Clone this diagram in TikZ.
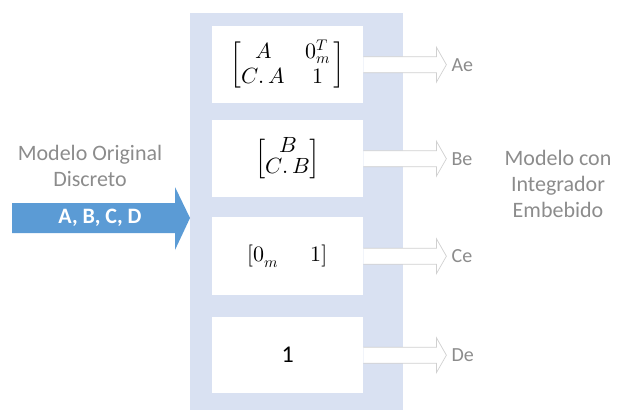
\documentclass[tikz,border=0pt]{standalone}
\usepackage{amsmath}
\usepackage{fontspec}
\usepackage{unicode-math}
\setmainfont{Carlito}
\setmathfont{Latin Modern Math}
\usetikzlibrary{calc}
\definecolor{panelc}{HTML}{D9E1F2}
\definecolor{txtgray}{HTML}{8C8C8C}
\definecolor{bluearr}{HTML}{5B9BD5}
\definecolor{arrline}{HTML}{D0D0D0}
\begin{document}
\begin{tikzpicture}[x=1pt,y=-1pt,
  box/.style={fill=white, draw=none, minimum width=151pt, inner sep=0pt, anchor=north west},
  lbl/.style={text=txtgray, font=\fontsize{20}{24}\selectfont, anchor=west, inner sep=0pt},
  sidetxt/.style={text=txtgray, font=\fontsize{22}{26}\selectfont, align=center, inner sep=0pt},
  mathtxt/.style={font=\fontsize{22}{20}\selectfont},
  outarrow/.style={fill=white, draw=arrline, line width=0.7pt, line join=miter},
  inarrow/.style={fill=bluearr, draw=none}]
\useasboundingbox (0,0) rectangle (618,410);
\node[fill=panelc, minimum width=213pt, minimum height=397pt, inner sep=0pt, anchor=north west] (panel) at (190,13) {};
\node[box, minimum height=77pt] (b1) at (212,26) {};
\node[box, minimum height=77pt] (b2) at (212,120) {};
\node[box, minimum height=78pt] (b3) at (212,217) {};
\node[box, minimum height=76pt] (b4) at (212,317) {};
\node[mathtxt] (m1) at (b1.center) {$\setlength{\arraycolsep}{10pt}\left[\begin{array}{@{}cc@{\,}}A & 0_m^T\\[3pt] C.\,A & 1\end{array}\right]$};
\node[mathtxt] (m2) at (b2.center) {$\left[\begin{array}{@{}c@{}}B\\ C.\,B\end{array}\right]$};
\node[mathtxt] (m3) at (b3.center) {$[0_m\quad\;\, 1]$};
\node[font=\fontsize{24}{28}\selectfont] (m4) at (b4.center) {1};
\foreach \b/\t in {b1/Ae, b2/Be, b3/Ce, b4/De}{
  \filldraw[outarrow] ($(\b.east)+(0,-8)$) -- ++(73,0) -- ++(0,-9.5) -- ++(10,17.5) -- ++(-10,17.5) -- ++(0,-9.5) -- ++(-73,0);
  \node[lbl] (l\t) at ($(\b.east)+(88,0)$) {\t};
}
\coordinate (tip) at (panel.west |- 0,218);
\fill[inarrow] (12,203) -- (175,203) -- (175,187) -- (tip) -- (175,250) -- (175,233) -- (12,233) -- cycle;
\node[text=white, font=\bfseries\fontsize{22}{26}\selectfont] (abcd) at (100,218) {A, B, C, D};
\node[sidetxt] (orig) at (90,166) {Modelo Original\\Discreto};
\node[sidetxt] (emb) at (558,184) {Modelo con\\Integrador\\Embebido};
\end{tikzpicture}
\end{document}
